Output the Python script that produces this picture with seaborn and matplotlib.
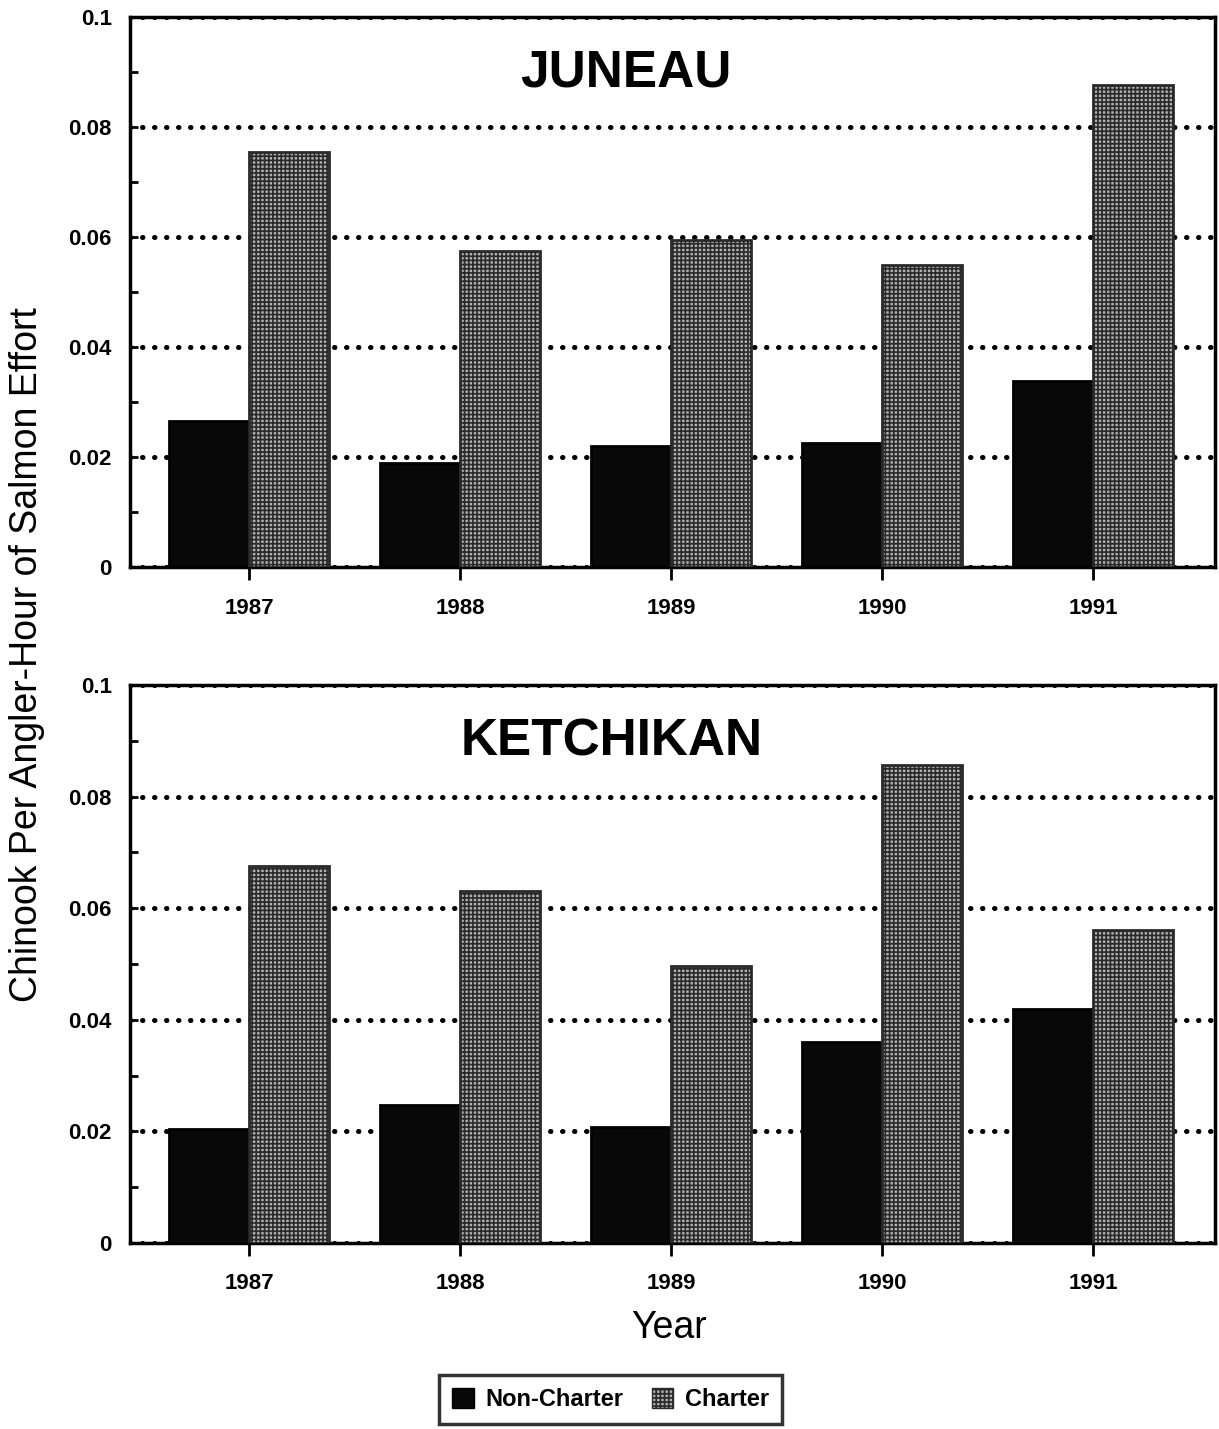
import pandas as pd
import numpy as np
import matplotlib
matplotlib.use('Agg')
import matplotlib.pyplot as plt
import seaborn as sns
from matplotlib.patches import Patch
from matplotlib.ticker import MultipleLocator

# Data
YEARS = ['1987', '1988', '1989', '1990', '1991']
JUNEAU_NON_CHARTER = [0.0265, 0.019, 0.022, 0.0225, 0.0338]
JUNEAU_CHARTER = [0.0755, 0.0574, 0.0595, 0.055, 0.0877]
KETCHIKAN_NON_CHARTER = [0.0204, 0.0247, 0.0208, 0.036, 0.042]
KETCHIKAN_CHARTER = [0.0676, 0.063, 0.0496, 0.0857, 0.056]
YTICKS = [0, 0.02, 0.04, 0.06, 0.08, 0.1]
YTICK_LABELS = ['0', '0.02', '0.04', '0.06', '0.08', '0.1']
GROUPS = ['Non-Charter', 'Charter']

sns.set_theme(style='white')
plt.rcParams['font.family'] = ['Liberation Sans', 'DejaVu Sans']
plt.rcParams['text.color'] = 'black'
plt.rcParams['axes.labelcolor'] = 'black'
plt.rcParams['xtick.color'] = 'black'
plt.rcParams['ytick.color'] = 'black'
plt.rcParams['hatch.linewidth'] = 1.2

NC_COLOR = '#080808'
C_COLOR = '#b0b0b0'
C_HATCH = '++++'


def make_frame(non_charter, charter):
    return pd.DataFrame({
        'Year': YEARS * 2,
        'Type': [GROUPS[0]] * len(YEARS) + [GROUPS[1]] * len(YEARS),
        'Rate': non_charter + charter,
    })


def draw_panel(ax, df, title, title_x):
    sns.barplot(data=df, x='Year', y='Rate', hue='Type', hue_order=GROUPS,
                palette=[NC_COLOR, C_COLOR], width=0.76, legend=False,
                edgecolor='black', linewidth=2, ax=ax, zorder=3)
    # charter bars get a texture like the scan
    for bar in ax.containers[1]:
        bar.set_hatch(C_HATCH)
        bar.set_edgecolor('#2a2a2a')

    ax.set_xlim(-0.564, 4.578)
    ax.set_ylim(0, 0.1)
    ax.set_yticks(YTICKS)
    ax.set_yticklabels(YTICK_LABELS, fontsize=16, fontweight='bold')
    ax.yaxis.set_minor_locator(MultipleLocator(0.01))
    ax.tick_params(axis='y', which='both', direction='in', length=6,
                   width=2, left=True, color='black', pad=13)
    ax.tick_params(axis='x', direction='out', length=9, width=2,
                   bottom=True, color='black', labelsize=16, pad=13)
    for lab in ax.get_xticklabels():
        lab.set_fontweight('bold')

    ax.grid(axis='y', color='black', linewidth=3.6,
            linestyle=(0, (0.1, 2.3)), dash_capstyle='round')
    ax.set_axisbelow(True)
    for sp in ax.spines.values():
        sp.set_visible(True)
        sp.set_color('black')
        sp.set_linewidth(2.5)
    ax.set_xlabel('')
    ax.set_ylabel('')
    ax.text(title_x, 0.898, title, transform=ax.transAxes, ha='center',
            va='center', fontsize=37, fontweight='bold')


fig = plt.figure(figsize=(12.19, 14.29), dpi=100)
ax_top = fig.add_axes([0.1066, 0.6032, 0.89, 0.3849])
ax_bot = fig.add_axes([0.1066, 0.1302, 0.89, 0.3905])

draw_panel(ax_top, make_frame(JUNEAU_NON_CHARTER, JUNEAU_CHARTER), 'JUNEAU', 0.457)
draw_panel(ax_bot, make_frame(KETCHIKAN_NON_CHARTER, KETCHIKAN_CHARTER), 'KETCHIKAN', 0.444)

fig.text(0.549, 1 - 1328 / 1429, 'Year', ha='center', va='center', fontsize=27)
fig.text(0.022, 0.5416, 'Chinook Per Angler-Hour of Salmon Effort', rotation=90,
         ha='center', va='center', fontsize=27)

handles = [Patch(facecolor=NC_COLOR, edgecolor='black', label=GROUPS[0]),
           Patch(facecolor=C_COLOR, edgecolor='#2a2a2a', hatch=C_HATCH, label=GROUPS[1])]
leg = fig.legend(handles=handles, loc='center', bbox_to_anchor=(0.501, 0.0205),
                 ncol=2, frameon=True, fancybox=False, edgecolor='black',
                 prop={'weight': 'bold', 'size': 17}, handlelength=0.9,
                 handleheight=0.9, columnspacing=1.2, handletextpad=0.5,
                 borderpad=0.55, borderaxespad=0)
leg.get_frame().set_linewidth(2.5)

fig.savefig('out.png', dpi=100)
